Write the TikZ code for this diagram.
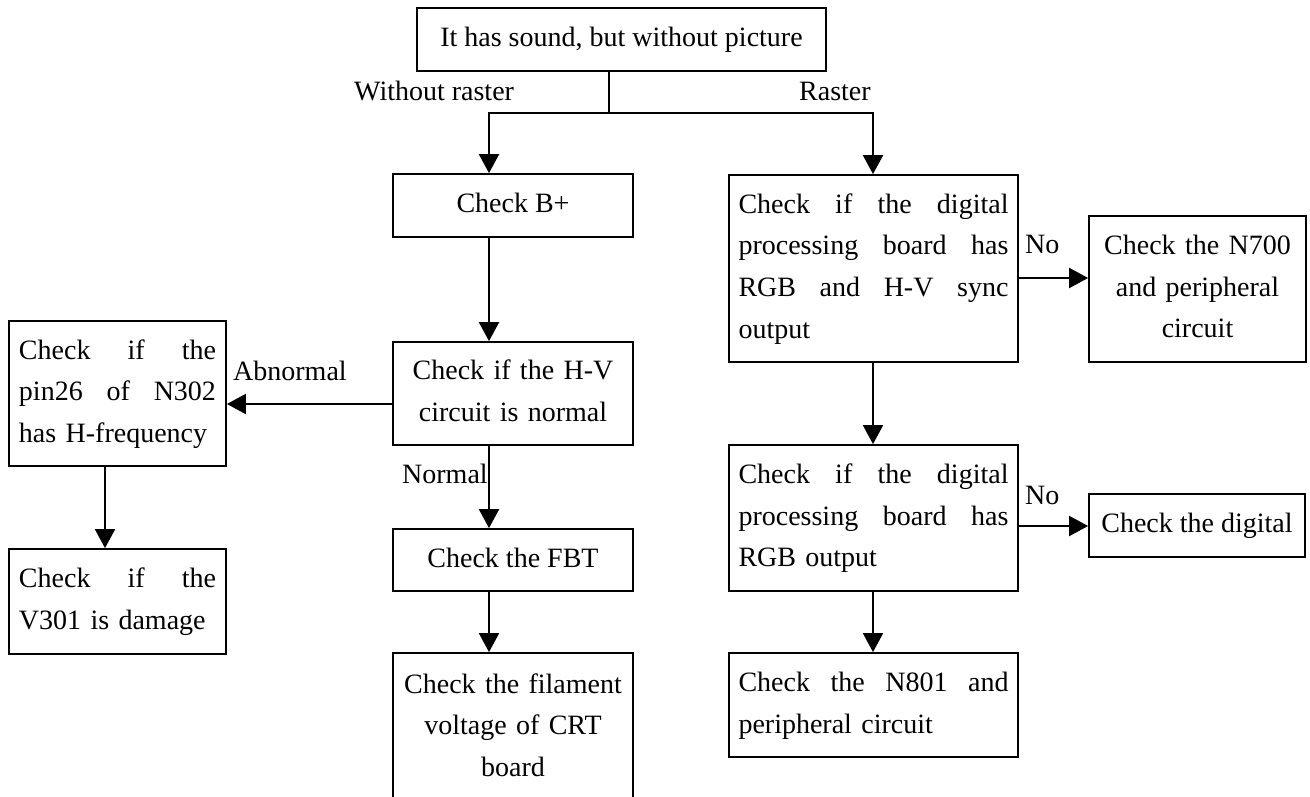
\documentclass[tikz,border=0pt]{standalone}
\usepackage{fontspec}
\setmainfont{Liberation Serif}
\usetikzlibrary{arrows.meta}
\newcommand\sx{\rule[-6.5pt]{0pt}{27.5pt}}
\newcommand\jline[1]{\sx\hbox to\hsize{\spaceskip=0.25em plus 1fil\relax #1}}
\begin{document}
\begin{tikzpicture}[x=1pt,y=-1pt,
  every node/.style={font=\fontsize{28}{41.7}\selectfont},
  bx/.style={draw, line width=1.8pt, inner sep=0pt},
  arr/.style={line width=2pt, -{Triangle[length=19pt,width=20pt]}},
  ln/.style={line width=2pt},
  lbl/.style={anchor=base west, inner sep=0pt}]
\useasboundingbox (0,0) rectangle (1310,796);
\clip (0,0) rectangle (1310,796);
% boxes
\node[bx, minimum width=409pt, minimum height=63pt] (top) at (621.5,39.5) {\sx It has sound, but without picture};
\node[bx, minimum width=240pt, minimum height=63pt] (bp) at (513,205.5) {\sx Check B+};
\node[bx, minimum width=240pt, minimum height=103pt, text width=220pt, align=center] (hv) at (513,393.5) {\sx Check if the H-V\\\sx circuit is normal};
\node[bx, minimum width=240pt, minimum height=62pt] (fbt) at (513,560) {\sx Check the FBT};
\node[bx, minimum width=240pt, minimum height=149pt, text width=220pt, align=center] (fil) at (513,727.5) {\sx Check the filament\\\sx voltage of CRT\\\sx board};
\node[bx, minimum width=217pt, minimum height=145pt, text width=197pt, align=left] (l1) at (117.5,393.5) {\jline{Check if the}\\\jline{pin26 of N302}\\\sx has H-frequency};
\node[bx, minimum width=217pt, minimum height=105pt, text width=197pt, align=left] (l2) at (117.5,601.5) {\jline{Check if the}\\\sx V301 is damage};
\node[bx, minimum width=289pt, minimum height=187pt, text width=270pt, align=left] (d1) at (873.5,268.5) {\jline{Check if the digital}\\\jline{processing board has}\\\jline{RGB and H-V sync}\\\sx output};
\node[bx, minimum width=217pt, minimum height=146pt, text width=197pt, align=center] (n700) at (1197.5,289) {\sx Check the N700\\\sx and peripheral\\\sx circuit};
\node[bx, minimum width=289pt, minimum height=146pt, text width=270pt, align=left] (d2) at (873.5,518) {\jline{Check if the digital}\\\jline{processing board has}\\\sx RGB output};
\node[bx, minimum width=216pt, minimum height=63pt] (dg) at (1197,525.5) {\sx Check the digital};
\node[bx, minimum width=289pt, minimum height=104pt, text width=270pt, align=left] (n801) at (873.5,705) {\jline{Check the N801 and}\\\sx peripheral circuit};
% helper coordinates
\coordinate (jx) at (609,113);
\coordinate (xl) at (489,0);
\coordinate (xr) at (873,0);
\coordinate (xa) at (105,0);
\coordinate (ya) at (0,404);
\coordinate (yb) at (0,278);
\coordinate (yc) at (0,526);
% connectors
\draw[ln] (top.south -| jx) -- (jx);
\draw[arr] (jx) -| (bp.north -| xl);
\draw[arr] (jx) -| (d1.north -| xr);
\draw[arr] (bp.south -| xl) -- (hv.north -| xl);
\draw[arr] (hv.west |- ya) -- (l1.east |- ya);
\draw[arr] (l1.south -| xa) -- (l2.north -| xa);
\draw[arr] (hv.south -| xl) -- (fbt.north -| xl);
\draw[arr] (fbt.south -| xl) -- (fil.north -| xl);
\draw[arr] (d1.east |- yb) -- (n700.west |- yb);
\draw[arr] (d1.south -| xr) -- (d2.north -| xr);
\draw[arr] (d2.east |- yc) -- (dg.west |- yc);
\draw[arr] (d2.south -| xr) -- (n801.north -| xr);
% labels
\node[lbl] (lwr) at (354,100) {Without raster};
\node[lbl] (lr) at (799,100) {Raster};
\node[lbl] (lno1) at (1025,253) {No};
\node[lbl] (lno2) at (1025,504) {No};
\node[lbl] (lab) at (233,380) {Abnormal};
\node[lbl] (lnm) at (402,483) {Normal};
\end{tikzpicture}
\end{document}
